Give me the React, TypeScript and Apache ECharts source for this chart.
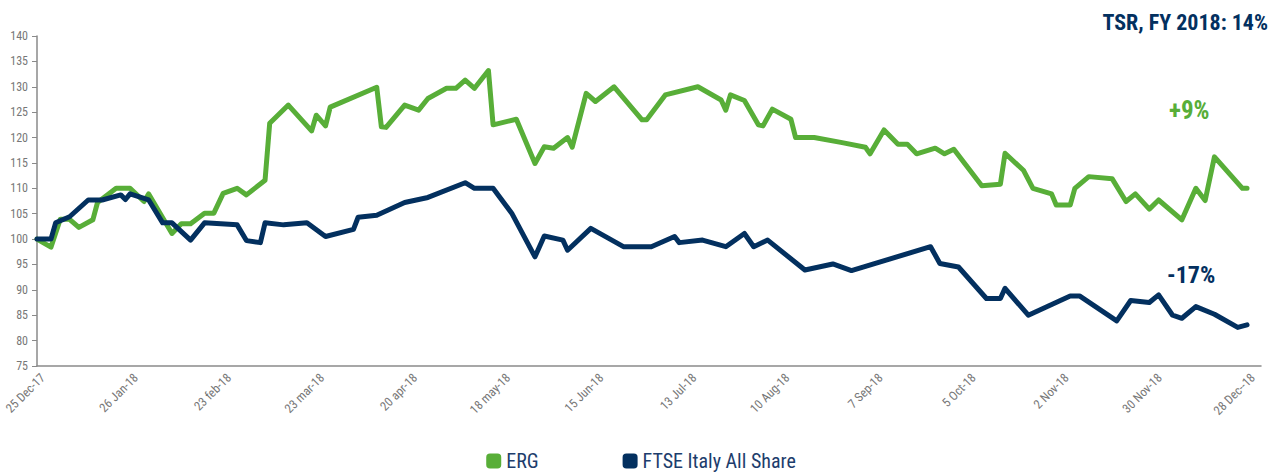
import React, { useEffect, useRef } from "react";
import * as echarts from "echarts";

// x values are trading-day offsets from 25 Dec 2017 (20 trading days between tick labels)
const tickLabels = [
  "25 Dec-17", "26 Jan-18", "23 feb-18", "23 mar-18", "20 apr-18", "18 may-18", "15 Jun-18",
  "13 Jul-18", "10 Aug-18", "7 Sep-18", "5 Oct-18", "2 Nov-18", "30 Nov-18", "28 Dec--18",
];

const ergDays = [
  0, 3, 5, 7, 9, 12, 13, 17, 20, 23, 24, 29, 31, 33, 36, 38, 40, 43, 45, 49, 50, 54, 59, 60, 62, 63,
  73, 74, 75, 79, 82, 84, 88, 90, 92, 94, 97, 98, 103, 107, 109, 111, 114, 115, 118, 120, 124, 130,
  131, 135, 142, 147, 148, 149, 152, 155, 156, 158, 162, 163, 167, 173, 178, 179, 182, 185, 187, 189,
  193, 195, 197, 203, 207, 208, 212, 214, 218, 219, 222, 223, 226, 231, 234, 236, 239, 241, 246, 249,
  251, 253, 259, 260,
];
const ergValues = [
  100, 98.4, 103.9, 103.9, 102.3, 103.8, 107.2, 110.0, 110.0, 107.4, 108.9, 101.1, 103.0, 103.0, 105.1,
  105.1, 109.0, 110.0, 108.7, 111.6, 122.8, 126.4, 121.3, 124.4, 122.3, 126.0, 129.9, 122.1, 122.0,
  126.4, 125.4, 127.7, 129.7, 129.7, 131.3, 129.7, 133.2, 122.5, 123.6, 114.9, 118.2, 117.9, 120.0,
  118.1, 128.7, 127.1, 130.0, 123.5, 123.5, 128.4, 130.0, 127.4, 125.4, 128.4, 127.3, 122.5, 122.3,
  125.6, 123.6, 120.0, 120.0, 119.0, 118.1, 116.8, 121.5, 118.7, 118.7, 116.8, 117.9, 116.8, 117.7,
  110.5, 110.8, 116.9, 113.5, 110.0, 108.9, 106.7, 106.7, 110.0, 112.3, 111.9, 107.4, 108.9, 105.9,
  107.7, 103.8, 110.0, 107.6, 116.2, 110.0, 110.0,
];

const ftseDays = [
  0, 3, 4, 7, 11, 14, 18, 19, 20, 24, 27, 29, 33, 36, 43, 45, 48, 49, 53, 58, 62, 68, 69, 73, 79, 84,
  92, 94, 98, 102, 107, 109, 113, 114, 119, 126, 132, 137, 138, 143, 148, 152, 154, 157, 165, 171, 175,
  192, 194, 198, 204, 207, 208, 213, 222, 224, 232, 235, 239, 241, 244, 246, 249, 253, 258, 260,
];
const ftseValues = [
  100, 100, 103.2, 104.4, 107.7, 107.7, 108.7, 107.8, 108.9, 107.7, 103.2, 103.2, 99.8, 103.2, 102.8,
  99.7, 99.3, 103.2, 102.8, 103.2, 100.5, 101.9, 104.3, 104.7, 107.2, 108.2, 111.1, 110.0, 110.0,
  105.1, 96.5, 100.6, 99.8, 97.8, 102.1, 98.5, 98.5, 100.5, 99.3, 99.8, 98.5, 101.1, 98.5, 99.8, 93.9,
  95.1, 93.8, 98.5, 95.2, 94.5, 88.3, 88.3, 90.3, 85.0, 88.8, 88.8, 83.9, 87.9, 87.5, 89.0, 85.0, 84.4,
  86.7, 85.2, 82.6, 83.1,
];

const GREEN = "#58ae38";
const NAVY = "#03305f";
const GREY = "#8a8a8a";
const FONT = "'Roboto Condensed', 'Liberation Sans Narrow', 'DejaVu Sans Condensed', Roboto, sans-serif";

export default function App() {
  const ref = useRef<HTMLDivElement>(null);
  useEffect(() => {
    document.body.style.margin = "0";
    if (!ref.current) return;
    const chart = echarts.init(ref.current, undefined, { renderer: "svg" });
    const erg = ergDays.map((d, i) => [d, ergValues[i]]);
    const ftse = ftseDays.map((d, i) => [d, ftseValues[i]]);
    chart.setOption({
      animation: false,
      backgroundColor: "#ffffff",
      textStyle: { fontFamily: FONT },
      grid: { left: 37, top: 36, right: 21, bottom: 108, containLabel: false },
      xAxis: {
        type: "value",
        min: 0,
        max: 263,
        interval: 20,
        splitLine: { show: false },
        axisLine: { show: true, lineStyle: { color: GREY, width: 1.5 } },
        axisTick: { show: false },
        axisLabel: {
          rotate: 45,
          color: "#777777",
          fontSize: 12.5,
          fontFamily: FONT,
          margin: 15,
          padding: [0, -8, 0, 0],
          showMaxLabel: false,
          formatter: (v: number) => tickLabels[Math.round(v / 20)] ?? "",
        },
      },
      yAxis: {
        type: "value",
        min: 75,
        max: 140,
        interval: 5,
        splitLine: { show: false },
        axisLine: { show: true, lineStyle: { color: GREY, width: 1.5 } },
        axisTick: { show: true, length: 5, lineStyle: { color: GREY } },
        axisLabel: { color: "#777777", fontSize: 12, fontFamily: FONT, margin: 9 },
      },
      legend: {
        bottom: -2,
        left: "center",
        itemWidth: 15,
        itemHeight: 15,
        itemGap: 84,
        icon: "roundRect",
        textStyle: { color: "#1d3d6c", fontSize: 20, fontFamily: FONT },
        data: ["ERG", "FTSE Italy All Share"],
      },
      series: [
        {
          name: "ERG",
          type: "line",
          data: erg,
          showSymbol: false,
          symbol: "none",
          color: GREEN,
          lineStyle: { color: GREEN, width: 5, cap: "round", join: "round" },
        },
        {
          name: "FTSE Italy All Share",
          type: "line",
          data: ftse,
          showSymbol: false,
          symbol: "none",
          color: NAVY,
          lineStyle: { color: NAVY, width: 5, cap: "round", join: "round" },
        },
      ],
      graphic: [
        {
          type: "text",
          right: 14,
          top: 11,
          style: { text: "TSR, FY 2018: 14%", fill: NAVY, font: `bold 22px ${FONT}` },
        },
        {
          type: "text",
          x: 1169,
          y: 110,
          style: { text: "+9%", fill: GREEN, font: `bold 25px ${FONT}`, verticalAlign: "middle" },
        },
        {
          type: "text",
          x: 1167,
          y: 275,
          style: { text: "-17%", fill: NAVY, font: `bold 24px ${FONT}`, verticalAlign: "middle" },
        },
      ],
    });
    return () => chart.dispose();
  }, []);
  return <div ref={ref} style={{ width: 1282, height: 474 }} />;
}
